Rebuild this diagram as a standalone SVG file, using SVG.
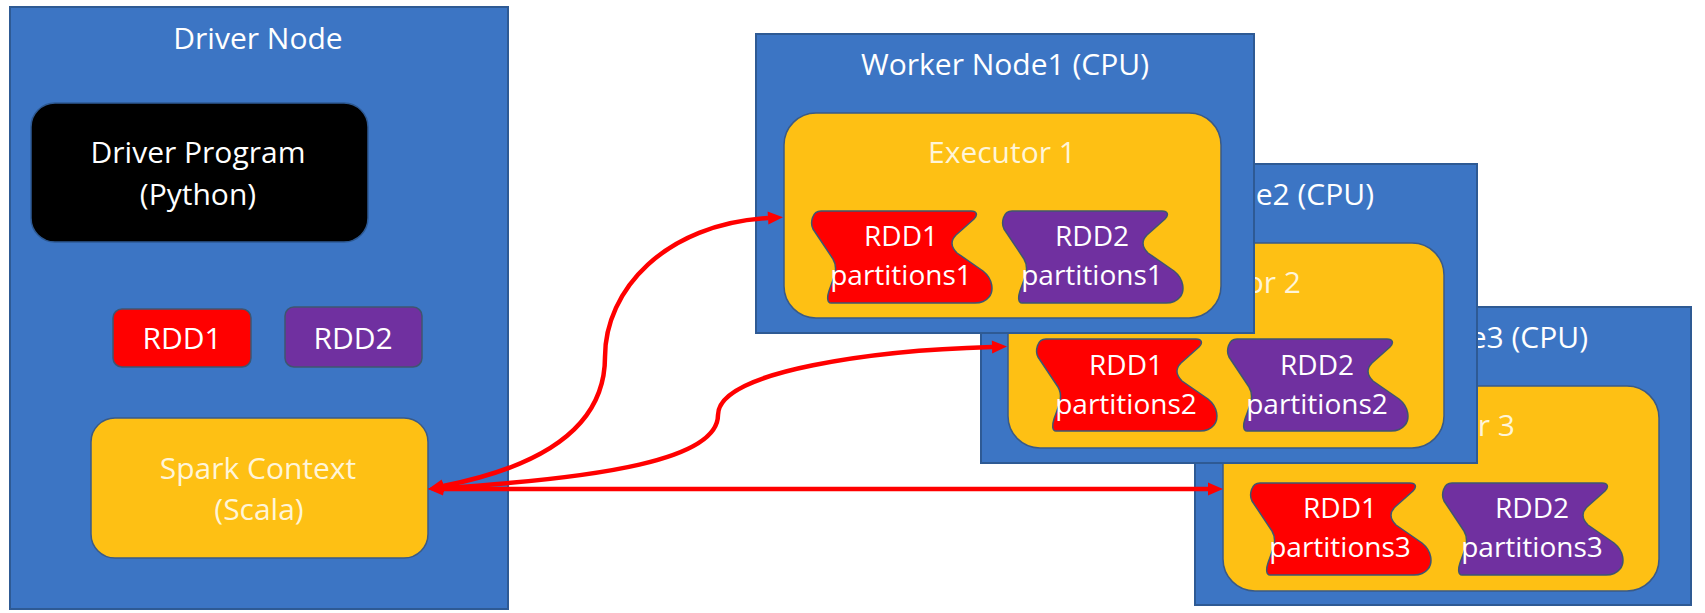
<svg xmlns="http://www.w3.org/2000/svg" xmlns:xlink="http://www.w3.org/1999/xlink" width="1705" height="613" viewBox="0 0 1705 613">
<style>
.box{fill:#3C75C4;stroke:#2E5A94;stroke-width:2}
.exec{fill:#FEC014;stroke:#3A5A86;stroke-width:1.5}
.red{fill:#FF0000;stroke:#3F5570;stroke-width:1.5}
.purple{fill:#7030A0;stroke:#3F5570;stroke-width:1.5}
.black{fill:#000000;stroke:#2E5A94;stroke-width:1.5}
text{font-family:"Open Sans","Liberation Sans",sans-serif;font-size:30px;text-anchor:middle;fill:#FFFFFF}
text.cream{fill:#FFF5D8}
text.part{font-size:28px}
.conn{fill:none;stroke:#FF0000;stroke-width:4.5}
</style>
<defs>
<marker id="ah" viewBox="0 -7 15 14" refX="0" refY="0" markerWidth="15" markerHeight="14" markerUnits="userSpaceOnUse" orient="auto-start-reverse" overflow="visible">
<path d="M0,-6.5 L15,0 L0,6.5 Z" fill="#FF0000"/>
</marker>
<path id="tape" d="M10,0 H160 C166,0 167,4 163,8 L145,24 C139,30 140,36 146,42 L172,60 C182,68 183,80 178,86 C174,91 169,92 164,92 H20 C16,92 16,86 18,80 C22,68 28,58 22,48 L2,18 C-1,12 1,0 10,0 Z"/>
</defs>

<g id="driver-node">
<rect class="box" x="10" y="7" width="498" height="602"/>
<text x="258" y="49">Driver Node</text>
</g>
<g id="driver-program">
<rect class="black" x="31" y="103" width="337" height="139" rx="24"/>
<text x="198" y="163">Driver Program</text>
<text x="198" y="205">(Python)</text>
</g>
<g id="rdd1">
<rect class="red" x="113" y="309" width="138" height="58" rx="9"/>
<text x="182" y="349">RDD1</text>
</g>
<g id="rdd2">
<rect class="purple" x="285" y="307" width="137" height="60" rx="9"/>
<text x="353" y="349">RDD2</text>
</g>
<g id="spark-context">
<rect class="exec" x="91" y="418" width="337" height="140" rx="24"/>
<text class="cream" x="258" y="479">Spark Context</text>
<text class="cream" x="259" y="520">(Scala)</text>
</g>

<g id="worker-node3" transform="translate(1195,307)">
<rect class="box" x="0" y="0" width="496" height="298"/>
<text x="249" y="41">Worker Node3 (CPU)</text>
<g id="executor3">
<rect class="exec" x="28" y="79" width="436" height="205" rx="32"/>
<text class="cream" x="246" y="129">Executor 3</text>
</g>
<g id="rdd1-partitions3">
<use href="#tape" class="red" transform="translate(55,176)"/>
<text class="part" x="145" y="211">RDD1</text>
<text class="part" x="145" y="250">partitions3</text>
</g>
<g id="rdd2-partitions3">
<use href="#tape" class="purple" transform="translate(247,176)"/>
<text class="part" x="337" y="211">RDD2</text>
<text class="part" x="337" y="250">partitions3</text>
</g>
</g>

<g id="worker-node2" transform="translate(981,164)">
<rect class="box" x="0" y="0" width="496" height="299"/>
<text x="249" y="41">Worker Node2 (CPU)</text>
<g id="executor2">
<rect class="exec" x="27" y="79" width="436" height="205" rx="32"/>
<text class="cream" x="246" y="129">Executor 2</text>
</g>
<g id="rdd1-partitions2">
<use href="#tape" class="red" transform="translate(55,175)"/>
<text class="part" x="145" y="211">RDD1</text>
<text class="part" x="145" y="250">partitions2</text>
</g>
<g id="rdd2-partitions2">
<use href="#tape" class="purple" transform="translate(246,175)"/>
<text class="part" x="336" y="211">RDD2</text>
<text class="part" x="336" y="250">partitions2</text>
</g>
</g>

<g id="worker-node1" transform="translate(756,34)">
<rect class="box" x="0" y="0" width="498" height="299"/>
<text x="249" y="41">Worker Node1 (CPU)</text>
<g id="executor1">
<rect class="exec" x="28" y="79" width="437" height="205" rx="32"/>
<text class="cream" x="246" y="129">Executor 1</text>
</g>
<g id="rdd1-partitions1">
<use href="#tape" class="red" transform="translate(55,177)"/>
<text class="part" x="145" y="212">RDD1</text>
<text class="part" x="145" y="251">partitions1</text>
</g>
<g id="rdd2-partitions1">
<use href="#tape" class="purple" transform="translate(246,177)"/>
<text class="part" x="336" y="212">RDD2</text>
<text class="part" x="336" y="251">partitions1</text>
</g>
</g>

<g id="connectors">
<path class="conn" d="M443,486 C545,466 605,425 605,357 C605,290 665,224 768,218" marker-start="url(#ah)" marker-end="url(#ah)"/>
<path class="conn" d="M443,488 C600,478 718,460 718,415 C718,370 880,350 992,347" marker-start="url(#ah)" marker-end="url(#ah)"/>
<path class="conn" d="M443,489 H1208" marker-start="url(#ah)" marker-end="url(#ah)"/>
</g>
</svg>
